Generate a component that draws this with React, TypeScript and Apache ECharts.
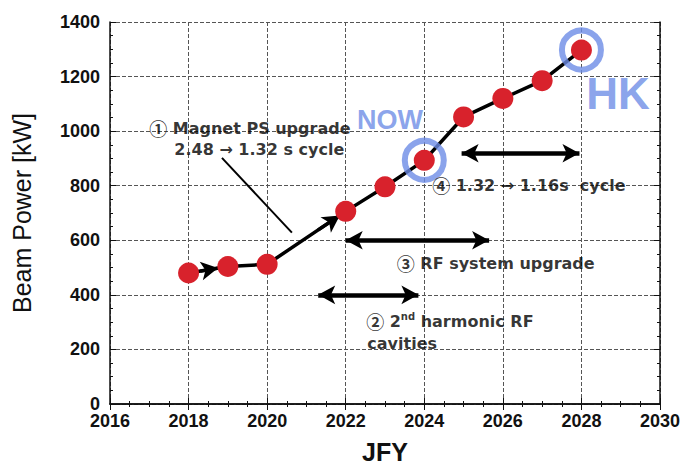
import React, { useEffect, useRef } from "react";
import * as echarts from "echarts";

const years = [2018, 2019, 2020, 2022, 2023, 2024, 2025, 2026, 2027, 2028];
const powerKW = [480, 504, 512, 706, 796, 893, 1052, 1120, 1185, 1297];
const highlightYears = [2024, 2028];
const highlightPower = [893, 1297];

// double arrows: [x1, x2, y]
const spans = [
  [2024.95, 2027.95, 919],
  [2022.0, 2025.65, 600],
  [2021.3, 2023.85, 400],
];

// annotation texts: [x, y, text, align, kind]
const notes: [number, number, string, string, string][] = [
  [2019.56, 1010, "{c|①} Magnet PS upgrade", "center", "black"],
  [2019.8, 931, "2.48 → 1.32 s cycle", "center", "black"],
  [2024.2, 801, "{c|④} 1.32 → 1.16s  cycle", "left", "black"],
  [2023.3, 516, "{c|③} RF system upgrade", "left", "black"],
  [2022.52, 303, "{c|②} 2{sup|nd} harmonic RF", "left", "black"],
  [2022.55, 220, "cavities", "left", "black"],
  [2023.13, 1040, "NOW", "center", "blue"],
  [2028.93, 1137, "HK", "center", "blueBig"],
];

const pointerLine = [
  [2018.85, 902],
  [2020.63, 628],
];
const lineArrows = [
  [[2021.3, 638], [2021.85, 691]],
  [[2018.3, 487], [2018.75, 498]],
];

const FONT = "'Liberation Sans', Arial, Helvetica, sans-serif";
const NOTE_FONT = "'DejaVu Sans', 'Liberation Sans', sans-serif";
const BLUE = "#6d8ce6";
const RED = "#d8222c";

export default function App() {
  const ref = useRef<HTMLDivElement>(null);
  useEffect(() => {
    const chart = echarts.init(ref.current!, null, { renderer: "svg" });
    const tickLabel = { color: "#111", fontSize: 18, fontFamily: FONT, fontWeight: "bold" as const };
    const gridLine = { show: true, lineStyle: { color: "#555", type: "dashed" as const, width: 1 } };
    const frameAxis = {
      axisLine: { show: true, lineStyle: { color: "#111", width: 1.5 } },
      axisTick: { show: true, inside: true, length: 6, lineStyle: { color: "#111" } },
      minorTick: { show: true, splitNumber: 4, length: 3, lineStyle: { color: "#111" } },
      splitLine: gridLine,
      axisLabel: { show: false },
    };
    chart.setOption({
      animation: false,
      backgroundColor: "#fff",
      grid: { left: 110, right: 24, top: 22, bottom: 59 },
      xAxis: [
        {
          type: "value",
          min: 2016,
          max: 2030,
          interval: 2,
          name: "JFY",
          nameLocation: "middle",
          nameGap: 35,
          nameTextStyle: { fontSize: 25, fontFamily: FONT, color: "#111", fontWeight: "bold" },
          axisLabel: { ...tickLabel, margin: 8, formatter: (v: number) => String(v) },
          axisLine: { show: true, lineStyle: { color: "#111", width: 1.5 } },
          axisTick: { show: true, inside: true, length: 6, lineStyle: { color: "#111" } },
          minorTick: { show: true, splitNumber: 4, length: 3, lineStyle: { color: "#111" } },
          splitLine: gridLine,
        },
        { type: "value", position: "top", min: 2016, max: 2030, interval: 2, ...frameAxis },
      ],
      yAxis: [
        {
          type: "value",
          min: 0,
          max: 1400,
          interval: 200,
          name: "Beam Power [kW]",
          nameLocation: "middle",
          nameGap: 76,
          nameTextStyle: { fontSize: 25, fontFamily: FONT, color: "#111" },
          axisLabel: { ...tickLabel, margin: 10, formatter: (v: number) => String(v) },
          axisLine: { show: true, lineStyle: { color: "#111", width: 1.5 } },
          axisTick: { show: true, inside: true, length: 6, lineStyle: { color: "#111" } },
          minorTick: { show: true, splitNumber: 4, length: 3, lineStyle: { color: "#111" } },
          splitLine: gridLine,
        },
        { type: "value", position: "right", min: 0, max: 1400, interval: 200, ...frameAxis },
      ],
      series: [
        {
          type: "line",
          data: years.map((y, i) => [y, powerKW[i]]),
          symbol: "circle",
          symbolSize: 21,
          itemStyle: { color: RED },
          lineStyle: { color: "#000", width: 3.5 },
          z: 5,
          markLine: {
            silent: true,
            symbol: ["arrow", "arrow"],
            symbolSize: [14, 17],
            label: { show: false },
            lineStyle: { color: "#000", width: 4.5, type: "solid" },
            data: [
              ...spans.map((s) => [{ coord: [s[0], s[2]] }, { coord: [s[1], s[2]] }]),
              [
                { coord: pointerLine[0], symbol: "none" },
                { coord: pointerLine[1], symbol: "none", lineStyle: { width: 2 } },
              ],
              ...lineArrows.map((a) => [
                { coord: a[0], symbol: "none" },
                { coord: a[1], symbol: "arrow", lineStyle: { width: 3.5 } },
              ]),
            ],
          },
        },
        {
          type: "scatter",
          data: highlightYears.map((y, i) => [y, highlightPower[i]]),
          symbol: "circle",
          symbolSize: 39,
          itemStyle: { color: "rgba(0,0,0,0)", borderColor: BLUE, borderWidth: 6 },
          z: 6,
        },
        {
          type: "scatter",
          symbolSize: 0,
          z: 7,
          data: notes.map((n) => ({
            value: [n[0], n[1]],
            label: {
              show: true,
              position: [0, 0],
              align: n[3],
              verticalAlign: "middle",
              formatter: n[2],
              fontFamily: n[4] === "black" ? NOTE_FONT : FONT,
              fontWeight: "bold",
              fontSize: n[4] === "blueBig" ? 44 : n[4] === "blue" ? 27 : 16,
              color: n[4] === "black" ? "#000" : BLUE,
              textBorderWidth: 0,
              rich: {
                sup: { fontSize: 10, fontFamily: NOTE_FONT, fontWeight: "bold", color: "#000", padding: [0, 0, 9, 0] },
                c: { fontSize: 18, fontFamily: "'Noto Sans CJK JP', sans-serif", fontWeight: "bold", color: "#000" },
              },
            },
          })),
        },
      ],
    });
    return () => chart.dispose();
  }, []);
  return <div ref={ref} style={{ width: 684, height: 469, position: "absolute", left: 0, top: 0 }} />;
}
